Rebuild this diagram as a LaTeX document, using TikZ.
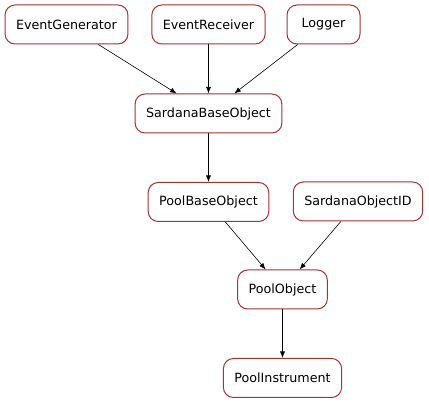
\documentclass[tikz,border=0pt]{standalone}
\usepackage{fontspec}
\setmainfont{DejaVu Sans}
\usetikzlibrary{arrows.meta,positioning}
\definecolor{frame}{RGB}{172,48,48}
\tikzstyle{cls} = [rectangle, rounded corners=10pt, draw=frame, line width=1pt, fill=white, text=black, font=\fontsize{12.7}{15}\selectfont, minimum height=39pt, minimum width=73pt, inner xsep=11pt]
\tikzstyle{tedge} = [draw, line width=0.6pt, >={Latex[length=6.5pt,width=5pt]}, ->]

\begin{document}
\begin{tikzpicture}[x=1pt, y=1pt]
\useasboundingbox (0,0) rectangle (429,-403);

% top row =============================
\node[cls] (EventGenerator) at (66.5,-24.5) {EventGenerator};
\node[cls] (EventReceiver) at (208.5,-24.5) {EventReceiver};
\node[cls] (Logger) at (323.5,-24.5) {Logger};

% bases
\node[cls, below=49pt of EventReceiver] (SardanaBaseObject) {SardanaBaseObject};
\node[cls, below=48.5pt of SardanaBaseObject] (PoolBaseObject) {PoolBaseObject};
\node[cls] (SardanaObjectID) at (358,-201.5) {SardanaObjectID};

% pool
\node[cls] (PoolObject) at (282.5,-289.5) {PoolObject};
\node[cls, below=48.5pt of PoolObject] (PoolInstrument) {PoolInstrument};

%edges
\path[tedge] (EventGenerator) -- (SardanaBaseObject);
\path[tedge] (EventReceiver) -- (SardanaBaseObject);
\path[tedge] (Logger) -- (SardanaBaseObject);
\path[tedge] (SardanaBaseObject) -- (PoolBaseObject);
\path[tedge] (PoolBaseObject) -- (PoolObject);
\path[tedge] (SardanaObjectID) -- (PoolObject);
\path[tedge] (PoolObject) -- (PoolInstrument);

\end{tikzpicture}
\end{document}
